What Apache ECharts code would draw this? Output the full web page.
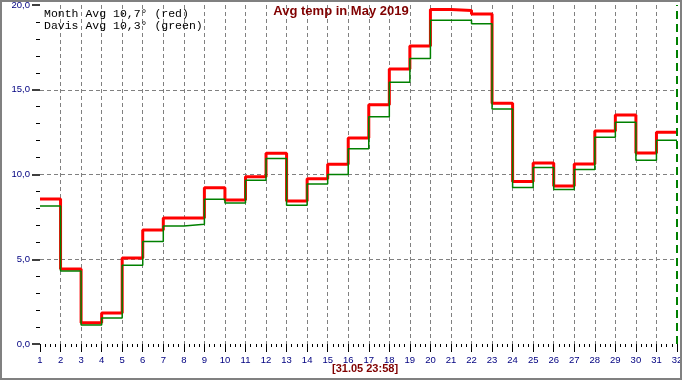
<!DOCTYPE html>
<html>
<head>
<meta charset="utf-8">
<script src="https://cdn.jsdelivr.net/npm/echarts@6/dist/echarts.min.js"></script>
<style>
html,body{margin:0;padding:0;background:#fff;}
#c{width:682px;height:380px;}
</style>
</head>
<body>
<div id="c"></div>
<script>
// ---- data ----
var days = [1,2,3,4,5,6,7,8,9,10,11,12,13,14,15,16,17,18,19,20,21,22,23,24,25,26,27,28,29,30,31];
var redVals = [8.55,4.42,1.26,1.83,5.07,6.73,7.43,7.43,9.22,8.5,9.87,11.25,8.44,9.75,10.6,12.15,14.12,16.22,17.58,19.74,19.68,19.47,14.2,9.58,10.68,9.32,10.62,12.57,13.51,11.27,12.5];
var greenVals = [8.14,4.3,1.12,1.53,4.64,6.04,6.96,7.06,8.54,8.32,9.66,10.95,8.18,9.44,10.0,11.52,13.41,15.44,16.85,19.1,19.1,18.9,13.86,9.24,10.42,9.12,10.3,12.2,13.08,10.84,12.02];
var titleText = 'Avg temp in May 2019';
var legendLines = ['Month Avg 10,7\u00b0 (red)', 'Davis Avg 10,3\u00b0 (green)'];
var footerText = '[31.05 23:58]';
var endDay = 32;

function stepData(vals){
  var d = days.map(function(x,i){ return [x, vals[i]]; });
  d.push([endDay, vals[vals.length-1]]);
  return d;
}

var chart = echarts.init(document.getElementById('c'), null, {renderer:'canvas'});
var gridDash = {color:'#808080', type:[4,3], width:1};
chart.setOption({
  animation:false,
  backgroundColor:'#ffffff',
  grid:{left:40, right:5, top:5, bottom:36, containLabel:false, outerBoundsMode:'none'},
  xAxis:{
    type:'value', min:1, max:32, interval:1,
    axisLine:{show:false},
    axisTick:{show:true, length:8, lineStyle:{color:'#000', width:1}},
    minorTick:{show:true, splitNumber:4, length:3, lineStyle:{color:'#000', width:1}},
    axisLabel:{color:'#000080', fontSize:9.5, fontFamily:'Liberation Sans, Arial, sans-serif', margin:11, showMinLabel:true, showMaxLabel:true, hideOverlap:false},
    splitLine:{show:true, showMinLine:false, showMaxLine:false, lineStyle:gridDash}
  },
  yAxis:{
    type:'value', min:0, max:20, interval:5,
    name:'\u00b0C', nameLocation:'middle', nameRotate:90, nameGap:31,
    nameTextStyle:{color:'#800000', fontSize:10, fontFamily:'Liberation Sans, Arial, sans-serif'},
    axisLine:{show:false},
    axisTick:{show:true, length:8, lineStyle:{color:'#000', width:1.5}},
    minorTick:{show:true, splitNumber:5, length:4, lineStyle:{color:'#000', width:1}},
    axisLabel:{color:'#000080', fontSize:9.5, fontFamily:'Liberation Sans, Arial, sans-serif', margin:10,
      formatter:function(v){ return v.toFixed(1).replace('.', ','); }},
    splitLine:{show:true, showMinLine:false, showMaxLine:false, lineStyle:gridDash}
  },
  series:[
    {type:'line', name:'red', step:'end', data:stepData(redVals), showSymbol:false, symbol:'none',
      lineStyle:{color:'#ff0000', width:3}, z:3},
    {type:'line', name:'green', step:'end', data:stepData(greenVals), showSymbol:false, symbol:'none',
      lineStyle:{color:'#008000', width:1.5}, z:4,
      markLine:{silent:true, symbol:'none', label:{show:false},
        lineStyle:{color:'#008000', type:[8,5], width:2},
        data:[{xAxis:endDay}]}}
  ],
  graphic:[
    {type:'rect', silent:true, z:100, shape:{x:1, y:1, width:680, height:378},
      style:{fill:null, stroke:'#808080', lineWidth:2}},
    {type:'text', left:'center', top:5, z:50,
      style:{text:titleText, fill:'#800000', font:'bold 13px "Liberation Sans", Arial, sans-serif'}},
    {type:'text', left:44, top:8, z:50,
      style:{text:legendLines[0], fill:'#000', font:'11.5px "Liberation Mono", "Courier New", monospace'}},
    {type:'text', left:44, top:20, z:50,
      style:{text:legendLines[1], fill:'#000', font:'11.5px "Liberation Mono", "Courier New", monospace'}},
    {type:'text', left:332, top:363, z:50,
      style:{text:footerText, fill:'#800000', font:'bold 11px "Liberation Sans", Arial, sans-serif'}}
  ]
});
</script>
</body>
</html>
